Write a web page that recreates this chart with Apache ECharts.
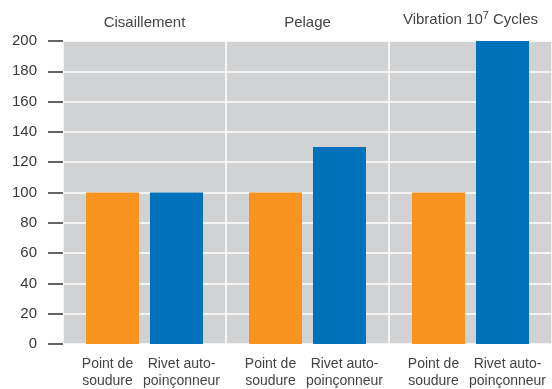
<!DOCTYPE html>
<html>
<head>
<meta charset="utf-8">
<script src="https://cdn.jsdelivr.net/npm/echarts@6/dist/echarts.min.js"></script>
<style>
  html, body { margin: 0; padding: 0; background: #fff; }
  #chart { width: 552px; height: 389px; }
</style>
</head>
<body>
<div id="chart"></div>
<script>
// test groups along the top, one bar per joining method
const panels = ['Cisaillement', 'Pelage', 'Vibration 10{sup|7} Cycles'];
const methods = ['Point de\nsoudure', 'Rivet auto-\npoinçonneur'];
const spotWeld = [100, 100, 100];
const selfPierce = [100, 130, 200];
const yMin = 0, yMax = 200, yStep = 20;

const chart = echarts.init(document.getElementById('chart'));
const font = '"Liberation Sans", Arial, sans-serif';

function barLabel(name, dx) {
  return {
    show: true,
    position: 'bottom',
    distance: 12,
    offset: [dx, 0],
    formatter: () => name,
    color: '#444',
    fontFamily: font,
    fontSize: 14,
    lineHeight: 17
  };
}

const option = {
  animation: false,
  grid: {
    left: 63, right: -3, top: 41, bottom: 45,
    show: true,
    backgroundColor: '#d1d2d4',
    borderWidth: 0
  },
  xAxis: {
    type: 'category',
    position: 'top',
    data: panels,
    axisLine: { show: false },
    axisTick: { show: false },
    splitLine: { show: true, interval: 0, lineStyle: { color: '#fff', width: 1.5 } },
    axisLabel: {
      interval: 0,
      margin: 11,
      color: '#444',
      fontFamily: font,
      fontSize: 15,
      rich: {
        sup: { fontSize: 11, padding: [0, 0, 9, 0], color: '#444', fontFamily: font }
      }
    }
  },
  yAxis: {
    type: 'value',
    min: yMin,
    max: yMax,
    interval: yStep,
    axisLine: { show: false },
    axisTick: { show: true, length: 15, lineStyle: { color: '#333', width: 1.5 } },
    splitLine: { show: true, lineStyle: { color: '#fff', width: 1.5 } },
    axisLabel: {
      margin: 26,
      color: '#3a3a3a',
      fontFamily: font,
      fontSize: 15
    }
  },
  series: [
    {
      name: methods[0],
      type: 'bar',
      data: spotWeld,
      barWidth: 53,
      barGap: '20.75%',
      itemStyle: { color: '#f7931e' },
      label: barLabel(methods[0], -5)
    },
    {
      name: methods[1],
      type: 'bar',
      data: selfPierce,
      barWidth: 53,
      itemStyle: { color: '#0071bb' },
      label: barLabel(methods[1], 5)
    }
  ]
};

chart.setOption(option);
</script>
</body>
</html>
